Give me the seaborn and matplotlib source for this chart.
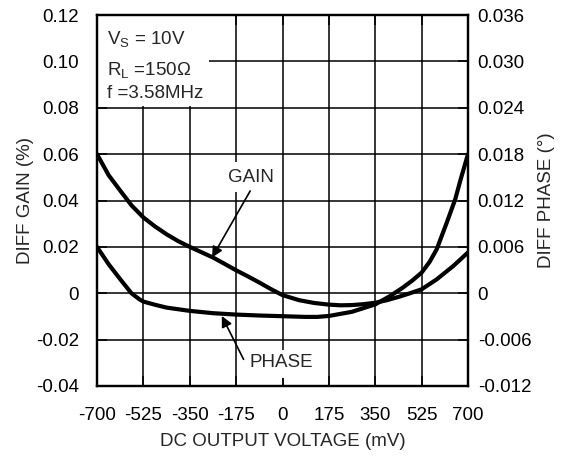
import matplotlib
matplotlib.use('Agg')
import matplotlib.pyplot as plt
import seaborn as sns
import pandas as pd
from matplotlib.patches import Rectangle

# ---- data ----
gain_mv = [-700, -656, -612, -569, -525, -481, -437, -394, -350, -306, -262,
           -219, -175, -131, -87, -44, 0, 63, 120, 175, 219, 262, 306, 350,
           394, 443, 481, 525, 582, 645, 700]
gain_pct = [0.0600, 0.0509, 0.0442, 0.0378, 0.0327, 0.0288, 0.0254, 0.0225,
            0.0200, 0.0177, 0.0154, 0.0127, 0.0099, 0.0073, 0.0046, 0.0018,
            -0.0008, -0.0030, -0.0042, -0.0049, -0.0052, -0.0051, -0.0047,
            -0.0041, -0.0030, -0.0014, 0.0000, 0.0017, 0.0060, 0.0118, 0.0176]

phase_mv = [-700, -656, -612, -570, -540, -525, -480, -437, -350, -262, -175,
            -87, 0, 87, 131, 175, 262, 350, 406, 455, 490, 525, 555, 582, 620,
            652, 672, 700]
phase_deg = [0.0060, 0.00375, 0.0018, 0.0000, -0.00078, -0.00108, -0.0015,
             -0.00186, -0.00228, -0.00258, -0.00276, -0.00288, -0.00297,
             -0.00306, -0.00306, -0.00294, -0.0024, -0.00144, -0.00036,
             0.00075, 0.00165, 0.00267, 0.00405, 0.0057, 0.00915, 0.01218,
             0.0147, 0.0180]

x_ticks = [-700, -525, -350, -175, 0, 175, 350, 525, 700]
x_tick_labels = ['-700', '-525', '-350', '-175', '0', '175', '350', '525', '700']
gain_ticks = [-0.04, -0.02, 0, 0.02, 0.04, 0.06, 0.08, 0.10, 0.12]
gain_tick_labels = ['-0.04', '-0.02', '0', '0.02', '0.04', '0.06', '0.08', '0.10', '0.12']
phase_ticks = [-0.012, -0.006, 0, 0.006, 0.012, 0.018, 0.024, 0.030, 0.036]
phase_tick_labels = ['-0.012', '-0.006', '0', '0.006', '0.012', '0.018', '0.024', '0.030', '0.036']

gain_df = pd.DataFrame({'mv': gain_mv, 'val': gain_pct})
phase_df = pd.DataFrame({'mv': phase_mv, 'val': phase_deg})

sns.set_style('white')
plt.rcParams['font.family'] = ['Liberation Sans', 'DejaVu Sans']
FS = 13.5

fig = plt.figure(figsize=(5.63, 4.58), dpi=100)
ax = fig.add_axes([97 / 563, 1 - 386 / 458, 371 / 563, 371 / 458])
ax2 = ax.twinx()

ax.set_xlim(-700, 700)
ax.set_ylim(-0.04, 0.12)
ax2.set_ylim(-0.012, 0.036)

# grid
for t in x_ticks[1:-1]:
    ax.axvline(t, color='black', lw=1.1, zorder=1)
for t in gain_ticks[1:-1]:
    ax.axhline(t, color='black', lw=1.1, zorder=1)

# white label boxes
for (x0, y0, w, h) in [(0.0, 0.755, 0.302, 0.245),
                       (0.337, 0.523, 0.154, 0.081),
                       (0.391, 0.022, 0.210, 0.075)]:
    ax.add_patch(Rectangle((x0, y0), w, h, transform=ax.transAxes,
                           facecolor='white', edgecolor='none', zorder=1.5))

sns.lineplot(data=gain_df, x='mv', y='val', ax=ax, color='black', lw=3.0,
             zorder=3, sort=False)
sns.lineplot(data=phase_df, x='mv', y='val', ax=ax2, color='black', lw=3.0,
             zorder=3, sort=False)

ax.set_xticks(x_ticks)
ax.set_xticklabels(x_tick_labels)
ax.set_yticks(gain_ticks)
ax.set_yticklabels(gain_tick_labels)
ax2.set_yticks(phase_ticks)
ax2.set_yticklabels(phase_tick_labels)

ax.tick_params(axis='both', direction='in', length=7, width=1.1, labelsize=FS,
               top=True, bottom=True, left=True, right=False, colors='black')
ax.tick_params(axis='x', pad=15)
ax.tick_params(axis='y', pad=13)
ax2.tick_params(axis='y', direction='in', length=7, width=1.1, labelsize=FS,
                pad=7, colors='black')

for a in (ax, ax2):
    for s in a.spines.values():
        s.set_linewidth(1.6)
        s.set_color('black')

ax.set_xlabel('DC OUTPUT VOLTAGE (mV)', fontsize=FS)
ax.set_ylabel('DIFF GAIN (%)', fontsize=FS)
ax2.set_ylabel('DIFF PHASE (°)', fontsize=FS)
ax.xaxis.set_label_coords(0.5, -0.127)
ax.yaxis.set_label_coords(-0.17, 0.5)
ax2.yaxis.set_label_coords(1.19, 0.5)

# annotation texts
ax.text(0.027, 0.919, r'V$_{\mathregular{S}}$ = 10V', transform=ax.transAxes,
        fontsize=FS, va='baseline', ha='left', zorder=4)
ax.text(0.027, 0.836, r'R$_{\mathregular{L}}$ =150Ω', transform=ax.transAxes,
        fontsize=FS, va='baseline', ha='left', zorder=4)
ax.text(0.027, 0.776, 'f =3.58MHz', transform=ax.transAxes,
        fontsize=FS, va='baseline', ha='left', zorder=4)
ax.text(0.414, 0.562, 'GAIN', transform=ax.transAxes, fontsize=FS,
        va='center', ha='center', zorder=4)
ax.text(0.498, 0.063, 'PHASE', transform=ax.transAxes, fontsize=FS,
        va='center', ha='center', zorder=4)

arrow = dict(arrowstyle='-|>', color='black', lw=1.2, mutation_scale=16,
             shrinkA=0, shrinkB=0)
ax.annotate('', xy=(-266, 0.0154), xytext=(-122, 0.0441), arrowprops=arrow,
            zorder=4)
ax.annotate('', xy=(-229, -0.0098), xytext=(-147, -0.0285), arrowprops=arrow,
            zorder=4)

fig.savefig('out.png', dpi=100)
